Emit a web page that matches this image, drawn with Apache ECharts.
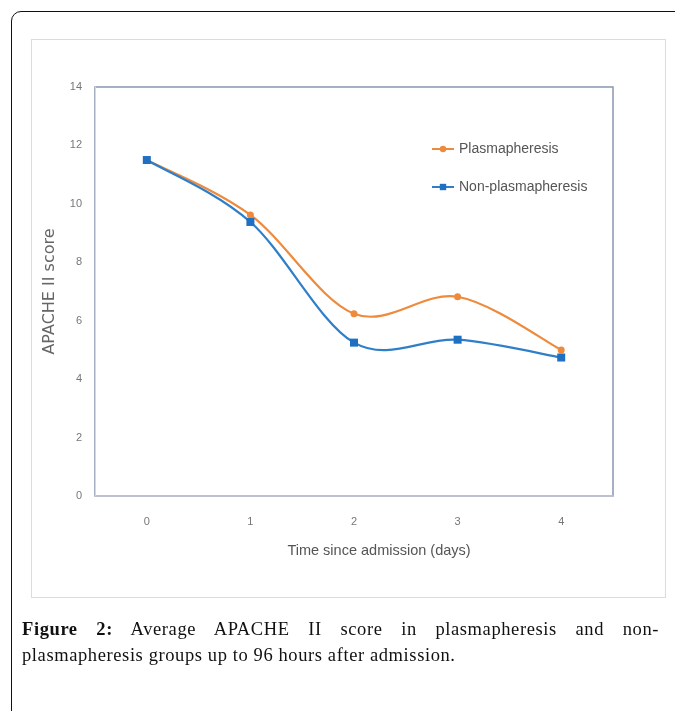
<!DOCTYPE html>
<html>
<head>
<meta charset="utf-8">
<script src="https://cdn.jsdelivr.net/npm/echarts@6/dist/echarts.min.js"></script>
<style>
  html,body{margin:0;padding:0;background:#fff;width:675px;height:711px;overflow:hidden;}
  #frame{position:absolute;left:11px;top:11px;width:700px;height:720px;border:1.5px solid #111;border-radius:10px;box-sizing:border-box;}
  #box{position:absolute;left:31px;top:39px;width:635px;height:559px;border:1px solid #dcdcdc;box-sizing:border-box;background:#fff;}
  #chart{position:absolute;left:0;top:0;width:675px;height:711px;}
  .cap{position:absolute;left:22px;width:637px;font-family:"Liberation Serif","DejaVu Serif",serif;font-size:18.5px;line-height:26px;letter-spacing:0.6px;color:#111;white-space:nowrap;}
  #cap1{top:616px;text-align:justify;text-align-last:justify;white-space:normal;}
  #cap2{top:642px;}
</style>
</head>
<body>
<div id="frame"></div>
<div id="box"></div>
<div id="chart"></div>
<div id="cap1" class="cap"><b>Figure 2:</b> Average APACHE II score in plasmapheresis and non-</div>
<div id="cap2" class="cap">plasmapheresis groups up to 96 hours after admission.</div>
<script>
const categories = ['0', '1', '2', '3', '4'];
const plasmapheresis = [11.5, 9.62, 6.24, 6.82, 5.0];
const nonPlasmapheresis = [11.5, 9.38, 5.25, 5.35, 4.74];
const yTicks = { min: 0, max: 14, interval: 2 };

const ORANGE = '#ee8a3c';
const BLUE_LINE = '#2f7fc8';
const BLUE_MARK = '#1f6fc2';

// Excel-like smoothed curve (Catmull-Rom as Bezier), drawn through the axes' coord()
function curveRenderer(values, color) {
  return function (params, api) {
    const i = params.dataIndex;
    const n = values.length;
    if (i >= n - 1) return null;
    const P = k => api.coord([Math.max(0, Math.min(n - 1, k)), values[Math.max(0, Math.min(n - 1, k))]]);
    const p0 = P(i - 1), p1 = P(i), p2 = P(i + 1), p3 = P(i + 2);
    return {
      type: 'bezierCurve',
      shape: {
        x1: p1[0], y1: p1[1], x2: p2[0], y2: p2[1],
        cpx1: p1[0] + (p2[0] - p0[0]) / 6, cpy1: p1[1] + (p2[1] - p0[1]) / 6,
        cpx2: p2[0] - (p3[0] - p1[0]) / 6, cpy2: p2[1] - (p3[1] - p1[1]) / 6
      },
      style: { stroke: color, lineWidth: 2.2, fill: null },
      silent: true
    };
  };
}

const chart = echarts.init(document.getElementById('chart'), null, { renderer: 'canvas' });
const sans = '"Liberation Sans",Arial,sans-serif';
chart.setOption({
  animation: false,
  grid: { left: 95, top: 87, width: 518, height: 409, show: true, borderColor: '#8b95ae', borderWidth: 1.5, backgroundColor: 'transparent' },
  legend: {
    orient: 'vertical', left: 426, top: 137, itemGap: 24, itemWidth: 22, itemHeight: 8,
    textStyle: { fontFamily: sans, fontSize: 14, color: '#555' },
    data: [
      { name: 'Plasmapheresis', lineStyle: { color: ORANGE, width: 2, opacity: 1 } },
      { name: 'Non-plasmapheresis', lineStyle: { color: BLUE_LINE, width: 2, opacity: 1 } }
    ]
  },
  xAxis: {
    type: 'category', data: categories, boundaryGap: true,
    axisLine: { show: true, lineStyle: { color: '#c3c8d3', width: 1.5 } },
    axisTick: { show: false },
    axisLabel: { color: '#777', fontFamily: sans, fontSize: 11, margin: 20 },
    name: 'Time since admission (days)', nameLocation: 'middle', nameGap: 47,
    nameTextStyle: { color: '#555', fontFamily: sans, fontSize: 14.5, padding: [0, 0, 0, 50] },
    splitLine: { show: false }
  },
  yAxis: {
    type: 'value', min: yTicks.min, max: yTicks.max, interval: yTicks.interval,
    axisLine: { show: true, lineStyle: { color: '#d5d8de', width: 1 } },
    axisTick: { show: false },
    axisLabel: { color: '#777', fontFamily: sans, fontSize: 11, margin: 13 },
    splitLine: { show: false },
    name: 'APACHE II score', nameLocation: 'middle', nameGap: 37, nameRotate: 90,
    nameTextStyle: { color: '#666', fontFamily: '"DejaVu Sans",Verdana,sans-serif', fontSize: 16 }
  },
  series: [
    {
      type: 'custom', name: 'curveP', z: 2, renderItem: curveRenderer(plasmapheresis, ORANGE),
      data: plasmapheresis.map((v, i) => [i, v]), encode: { x: 0, y: 1 }, silent: true
    },
    {
      type: 'custom', name: 'curveN', z: 2, renderItem: curveRenderer(nonPlasmapheresis, BLUE_LINE),
      data: nonPlasmapheresis.map((v, i) => [i, v]), encode: { x: 0, y: 1 }, silent: true
    },
    {
      name: 'Plasmapheresis', type: 'line', data: plasmapheresis, z: 3,
      symbol: 'circle', symbolSize: 7, showAllSymbol: true,
      lineStyle: { color: ORANGE, width: 0, opacity: 0 },
      itemStyle: { color: ORANGE }
    },
    {
      name: 'Non-plasmapheresis', type: 'line', data: nonPlasmapheresis, z: 4,
      symbol: 'rect', symbolSize: 8, showAllSymbol: true,
      lineStyle: { color: BLUE_LINE, width: 0, opacity: 0 },
      itemStyle: { color: BLUE_MARK }
    }
  ]
});
</script>
</body>
</html>
